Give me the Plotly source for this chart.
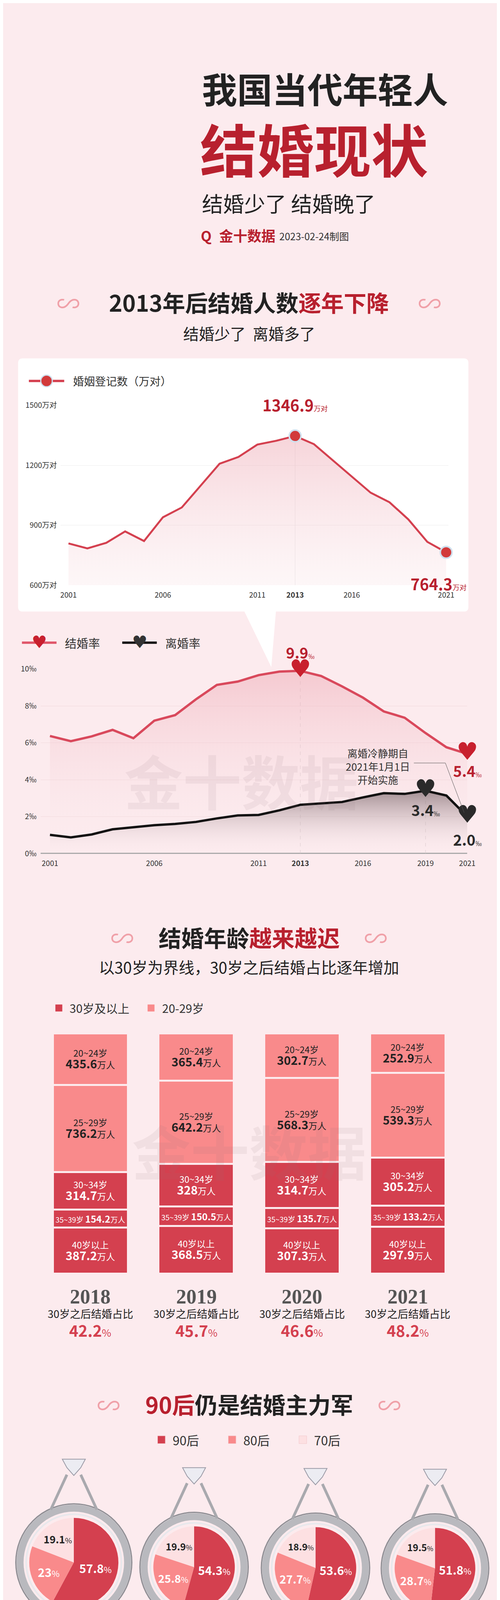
import numpy as np
import plotly.graph_objects as go

W, H = 1280, 4466

# ---------- data ----------
years = list(range(2001, 2022))
marriages = [809, 784, 812, 869, 821, 940, 989, 1098, 1208, 1242, 1304, 1323, 1346.9,
             1306, 1225, 1141, 1063, 1015, 929, 817, 764.3]
marriage_rate = [6.37, 6.09, 6.35, 6.7, 6.25, 7.2, 7.5, 8.36, 9.14, 9.32, 9.67, 9.86, 9.9,
                 9.62, 9.06, 8.45, 7.7, 7.36, 6.53, 5.76, 5.4]
divorce_rate = [1.01, 0.87, 1.03, 1.31, 1.42, 1.53, 1.6, 1.71, 1.9, 2.06, 2.09, 2.34, 2.64,
                2.7, 2.79, 3.04, 3.27, 3.23, 3.4, 3.14, 2.0]

age_years = ["2018", "2019", "2020", "2021"]
age_groups = ["40岁以上", "35~39岁", "30~34岁", "25~29岁", "20~24岁"]  # bottom -> top
age_values = {
    "40岁以上": [387.2, 368.5, 307.3, 297.9],
    "35~39岁": [154.2, 150.5, 135.7, 133.2],
    "30~34岁": [314.7, 328, 314.7, 305.2],
    "25~29岁": [736.2, 642.2, 568.3, 539.3],
    "20~24岁": [435.6, 365.4, 302.7, 252.9],
}
over30_share = ["42.2", "45.7", "46.6", "48.2"]

gen_labels = ["90后", "80后", "70后"]
gen_share = {
    "2018": [57.8, 23, 19.1],
    "2019": [54.3, 25.8, 19.9],
    "2020": [53.6, 27.7, 18.9],
    "2021": [51.8, 28.7, 19.5],
}
reg_total = ["2027.8", "1854.6", "1626.2", "1528.6"]

count_ticks = [600, 900, 1200, 1500]
rate_ticks = [0, 2, 4, 6, 8, 10]

RED = "#d4404f"
PINK = "#f98a8b"
PALE = "#fde0e2"
DARKRED = "#b8202e"
BG = "#fcebee"
SANS = "Noto Sans CJK SC"
SERIF = "Liberation Serif"


def X(p):
    return p / W


def Y(p):
    return 1 - p / H


fig = go.Figure()
shapes = []
ann = []


def text(x, y, s, size, color="#333", anchor="center", family=SANS, **kw):
    ann.append(dict(x=X(x), y=Y(y), xref="paper", yref="paper", text=s, showarrow=False,
                    xanchor=anchor, yanchor="middle", font=dict(size=size, color=color, family=family), **kw))


# ---------- header ----------
text(515, 203, "<b>我国当代年轻人</b>", 90, "#222", "left")
text(510, 357, "<b>结婚现状</b>", 146, DARKRED, "left")
text(515, 500, "结婚少了 结婚晚了", 54, "#222", "left")
text(512, 583, "<b>Q</b>", 36, DARKRED, "left")
text(560, 583, "<b>金十数据</b>", 36, DARKRED, "left")
text(717, 585, "2023-02-24制图", 25, "#333", "left")

# ---------- section 1 ----------
text(640, 755, "<b>2013年后结婚人数<span style='color:#b8202e'>逐年下降</span></b>", 58, "#222")
text(640, 835, "结婚少了  离婚多了", 40, "#222")
for cx in (170, 1110):
    text(cx, 755, "∽", 60, "#f0a0a8")

# card with pointer
shapes.append(dict(type="path", xref="paper", yref="paper",
                   path=f"M {X(51)},{Y(900)} L {X(1199)},{Y(900)} Q {X(1211)},{Y(900)} {X(1211)},{Y(912)} "
                        f"L {X(1211)},{Y(1540)} Q {X(1211)},{Y(1552)} {X(1199)},{Y(1552)} "
                        f"L {X(710)},{Y(1552)} L {X(698)},{Y(1695)} L {X(628)},{Y(1552)} "
                        f"L {X(51)},{Y(1552)} Q {X(39)},{Y(1552)} {X(39)},{Y(1540)} L {X(39)},{Y(912)} "
                        f"Q {X(39)},{Y(900)} {X(51)},{Y(900)} Z",
                   fillcolor="white", line=dict(width=0), layer="below"))
shapes.append(dict(type="line", xref="paper", yref="paper", x0=X(67), x1=X(159), y0=Y(958), y1=Y(958),
                   line=dict(color=RED, width=6)))
shapes.append(dict(type="circle", xref="paper", yref="paper", x0=X(98), x1=X(128), y0=Y(943), y1=Y(973),
                   fillcolor="#d23a3a", line=dict(color="#cfe0ee", width=3)))
text(180, 958, "婚姻登记数（万对）", 28, "#333", "left")

fig.add_trace(go.Scatter(x=[2013, 2013], y=[600, marriages[12]], mode="lines",
                         line=dict(color="#e6e6e6", width=1), xaxis="x", yaxis="y", hoverinfo="skip"))
fig.add_trace(go.Scatter(x=years, y=marriages, mode="lines", line=dict(color=RED, width=5),
                         fill="tozeroy", fillgradient=dict(type="vertical",
                                                           colorscale=[[0, "rgba(255,255,255,0)"], [1, "rgba(236,160,172,0.45)"]]),
                         xaxis="x", yaxis="y", cliponaxis=False))
fig.add_trace(go.Scatter(x=[2013, 2021], y=[marriages[12], marriages[-1]], mode="markers",
                         marker=dict(size=30, color="#d23a3a", line=dict(color="#cfe0ee", width=4)),
                         xaxis="x", yaxis="y", cliponaxis=False))
ann.append(dict(x=2013, y=marriages[12], xref="x", yref="y", yshift=80, showarrow=False,
                text=f"<b>{marriages[12]}</b><span style='font-size:18px'>万对</span>",
                font=dict(size=40, color=DARKRED, family=SANS)))
ann.append(dict(x=2021, y=marriages[-1], xref="x", yref="y", yshift=-80, xshift=-20, showarrow=False,
                text=f"<b>{marriages[-1]}</b><span style='font-size:18px'>万对</span>",
                font=dict(size=40, color=DARKRED, family=SANS)))

# ---------- section 1b: rates ----------
shapes.append(dict(type="line", xref="paper", yref="paper", x0=X(49), x1=X(139), y0=Y(1632), y1=Y(1632),
                   line=dict(color="#e0566a", width=6)))
text(94, 1630, "♥", 44, "#c8202e", family="DejaVu Sans")
text(159, 1632, "结婚率", 30, "#333", "left")
shapes.append(dict(type="line", xref="paper", yref="paper", x0=X(310), x1=X(400), y0=Y(1632), y1=Y(1632),
                   line=dict(color="#111", width=6)))
text(355, 1630, "♥", 44, "#333", family="DejaVu Sans")
text(420, 1632, "离婚率", 30, "#333", "left")

text(620, 1985, "<b>金十数据</b>", 150, "rgba(150,120,125,0.10)")

for yr, v in ((2013, marriage_rate[12]), (2019, divorce_rate[18])):
    fig.add_trace(go.Scatter(x=[yr, yr], y=[0, v], mode="lines", line=dict(color="#d8c8cb", width=1, dash="dash"),
                             xaxis="x2", yaxis="y2", hoverinfo="skip"))
fig.add_trace(go.Scatter(x=years, y=marriage_rate, mode="lines", line=dict(color="#d9495c", width=6),
                         fill="tozeroy", fillgradient=dict(type="vertical",
                                                           colorscale=[[0, "rgba(252,235,238,0)"], [1, "rgba(236,160,172,0.45)"]]),
                         xaxis="x2", yaxis="y2", cliponaxis=False))
fig.add_trace(go.Scatter(x=years, y=divorce_rate, mode="lines", line=dict(color="#111", width=6),
                         fill="tozeroy", fillgradient=dict(type="vertical",
                                                           colorscale=[[0, "rgba(252,235,238,0)"], [1, "rgba(90,70,75,0.55)"]]),
                         xaxis="x2", yaxis="y2", cliponaxis=False))
fig.add_trace(go.Scatter(x=[2013, 2021], y=[marriage_rate[12], marriage_rate[-1]], mode="text", text=["♥", "♥"],
                         textfont=dict(size=62, color="#c8202e", family="DejaVu Sans"),
                         xaxis="x2", yaxis="y2", cliponaxis=False))
fig.add_trace(go.Scatter(x=[2019, 2021], y=[divorce_rate[18], divorce_rate[-1]], mode="text", text=["♥", "♥"],
                         textfont=dict(size=62, color="#2a2a2a", family="DejaVu Sans"),
                         xaxis="x2", yaxis="y2", cliponaxis=False))
for yr, v, col, dy, dx in ((2013, marriage_rate[12], DARKRED, 48, 0), (2021, marriage_rate[-1], DARKRED, -43, 0),
                           (2019, divorce_rate[18], "#2a2a2a", -48, 0), (2021, divorce_rate[-1], "#2a2a2a", -58, 0)):
    ann.append(dict(x=yr, y=v, xref="x2", yref="y2", yshift=dy, xshift=dx, showarrow=False,
                    text=f"<b>{v:.1f}</b><span style='font-size:16px'>‰</span>",
                    font=dict(size=38, color=col, family=SANS)))
text(975, 1950, "离婚冷静期自<br>2021年1月1日<br>开始实施", 26, "#333")
shapes.append(dict(type="path", xref="paper", yref="paper",
                   path=f"M {X(1069)},{Y(1942)} L {X(1151)},{Y(1942)} L {X(1200)},{Y(2070)}",
                   line=dict(color="#555", width=1)))

# ---------- section 2: ages ----------
text(640, 2390, "<b>结婚年龄<span style='color:#b8202e'>越来越迟</span></b>", 58, "#222")
text(640, 2467, "以30岁为界线，30岁之后结婚占比逐年增加", 40, "#222")
for cx in (310, 970):
    text(cx, 2390, "∽", 60, "#f0a0a8")
shapes.append(dict(type="rect", xref="paper", yref="paper", x0=X(136), x1=X(154), y0=Y(2564), y1=Y(2582),
                   fillcolor=RED, line=dict(width=0)))
text(171, 2573, "30岁及以上", 30, "#333", "left")
shapes.append(dict(type="rect", xref="paper", yref="paper", x0=X(376), x1=X(394), y0=Y(2564), y1=Y(2582),
                   fillcolor=PINK, line=dict(width=0)))
text(412, 2573, "20-29岁", 30, "#333", "left")
text(640, 2938, "<b>金十数据</b>", 150, "rgba(150,120,125,0.10)")

vals = np.array([age_values[g] for g in age_groups])
shares = vals / vals.sum(axis=0) * 100
cum = np.cumsum(shares, axis=0) - shares / 2
xpos = list(range(len(age_years)))
for i, g in enumerate(age_groups):
    dark = i < 3
    fig.add_trace(go.Bar(x=xpos, y=shares[i].tolist(), marker=dict(color=RED if dark else PINK, line=dict(color=BG, width=5)),
                         xaxis="x3", yaxis="y3", width=0.712, hoverinfo="skip"))
    for j in xpos:
        v = age_values[g][j]
        col = "white" if dark else "#222"
        if g == "35~39岁":
            s = f"{g} <b><span style='font-size:24px'>{v:g}</span></b>万人"
            sz = 19
        else:
            s = f"{g}<br><b><span style='font-size:30px'>{v:g}</span></b>万人"
            sz = 23
        ann.append(dict(x=j, y=float(cum[i][j]), xref="x3", yref="y3", showarrow=False, text=s,
                        font=dict(size=sz, color=col, family=SANS)))

centers = [227, 503, 778, 1053]
for j, yr in enumerate(age_years):
    cx = centers[j]
    text(cx, 3317, f"<b>{yr}</b>", 52, "#555", family=SERIF)
    text(cx, 3360, "30岁之后结婚占比", 27, "#222")
    text(cx, 3403, f"<b>{over30_share[j]}</b><span style='font-size:26px'>%</span>", 40, RED)

# ---------- section 3: generations ----------
text(640, 3593, "<b><span style='color:#b8202e'>90后</span>仍是结婚主力军</b>", 58, "#222")
for cx in (275, 1005):
    text(cx, 3593, "∽", 60, "#f0a0a8")
for lx, col, lab in ((412, RED, gen_labels[0]), (596, PINK, gen_labels[1]), (780, PALE, gen_labels[2])):
    shapes.append(dict(type="rect", xref="paper", yref="paper", x0=X(lx - 10), x1=X(lx + 10), y0=Y(3675), y1=Y(3695),
                       fillcolor=col, line=dict(color="#f3c8cc", width=1)))
    text(lx + 27, 3685, lab, 32, "#333", "left")

pie_pos = [(184, 4001, 116), (497, 4013, 106), (813, 4015, 106), (1124, 4016, 105)]
for j, yr in enumerate(age_years):
    cx, cy, r = pie_pos[j]
    # ring
    for rr, w, c in ((r + 24, 18, "#b9b9be"), (r + 35, 3, "#8c8c92"), (r + 8, 4, "#e8e8ec")):
        shapes.append(dict(type="circle", xref="paper", yref="paper", x0=X(cx - rr), x1=X(cx + rr),
                           y0=Y(cy + rr), y1=Y(cy - rr), line=dict(color=c, width=w)))
    top = cy - r - 30
    dy = cy - r - 150
    shapes.append(dict(type="path", xref="paper", yref="paper",
                       path=f"M {X(cx - 60)},{Y(top + 10)} L {X(cx - 18)},{Y(dy + 40)} M {X(cx + 60)},{Y(top + 10)} L {X(cx + 18)},{Y(dy + 40)}",
                       line=dict(color="#a9a9ae", width=7)))
    shapes.append(dict(type="path", xref="paper", yref="paper",
                       path=f"M {X(cx - 30)},{Y(dy)} L {X(cx + 30)},{Y(dy)} L {X(cx + 18)},{Y(dy + 22)} L {X(cx)},{Y(dy + 42)} "
                            f"L {X(cx - 18)},{Y(dy + 22)} Z",
                       fillcolor="#ececf2", line=dict(color="#9a9aa6", width=2)))
    fig.add_trace(go.Pie(labels=gen_labels, values=gen_share[yr], sort=False, direction="clockwise", rotation=0,
                         marker=dict(colors=[RED, PINK, PALE], line=dict(width=0)),
                         domain=dict(x=[X(cx - r), X(cx + r)], y=[Y(cy + r), Y(cy - r)]),
                         textinfo="text", texttemplate="<b>%{value}</b><span style='font-size:22px'>%</span>",
                         textposition="inside", insidetextorientation="horizontal",
                         textfont=dict(size=30, color=["white", "white", "#222"], family=SANS),
                         showlegend=False, hoverinfo="skip"))
    text(cx, 4180, f"<b>{yr}</b>", 52, "#555", family=SERIF)
    text(cx, 4239, "登记总人数", 27, "#222")
    text(cx, 4272, f"<b>{reg_total[j]}</b><span style='font-size:22px'>万人</span>", 32, "#111")

text(640, 4361, "注：图中数据不包含中国港澳台地区", 22, "#444")

ax_font = dict(size=19, color="#333", family=SANS)
fig.update_layout(
    width=W, height=H, margin=dict(l=0, r=0, t=0, b=0),
    paper_bgcolor=BG, plot_bgcolor="rgba(0,0,0,0)", showlegend=False,
    barmode="stack",
    shapes=shapes, annotations=ann,
    xaxis=dict(domain=[X(149), X(1159)], range=[2000.57, 2021.12], tickvals=[2001, 2006, 2011, 2013, 2016, 2021],
               ticktext=["2001", "2006", "2011", "<b>2013</b>", "2016", "2021"], showgrid=False, zeroline=False,
               tickfont=ax_font, ticklabelstandoff=12),
    yaxis=dict(domain=[Y(1484), Y(1021)], range=[600, 1500], tickvals=count_ticks,
               ticktext=[f"{t}万对" for t in count_ticks],
               gridcolor="#ececec", zeroline=False, tickfont=ax_font, ticklabelstandoff=8),
    xaxis2=dict(domain=[X(98), X(1208)], range=[2000.56, 2021.0], tickvals=[2001, 2006, 2011, 2013, 2016, 2019, 2021],
                ticktext=["2001", "2006", "2011", "<b>2013</b>", "2016", "2019", "2021"], showgrid=False, zeroline=False,
                tickfont=ax_font, ticklabelstandoff=12, anchor="y2"),
    yaxis2=dict(domain=[Y(2175), Y(1700)], range=[0, 10], tickvals=rate_ticks,
                ticktext=[f"{t}‰" for t in rate_ticks],
                gridcolor="#f1dadd", zeroline=True, zerolinecolor="#aaaaaa", zerolinewidth=3,
                tickfont=ax_font, ticklabelstandoff=10, anchor="x2"),
    xaxis3=dict(domain=[X(89.5), X(1190.7)], range=[-0.5, 3.5], showticklabels=False, showgrid=False,
                zeroline=False, anchor="y3"),
    yaxis3=dict(domain=[Y(3257), Y(2638)], range=[0, 100], showticklabels=False, showgrid=False,
                zeroline=False, anchor="x3"),
)

fig.write_html("out.html")
